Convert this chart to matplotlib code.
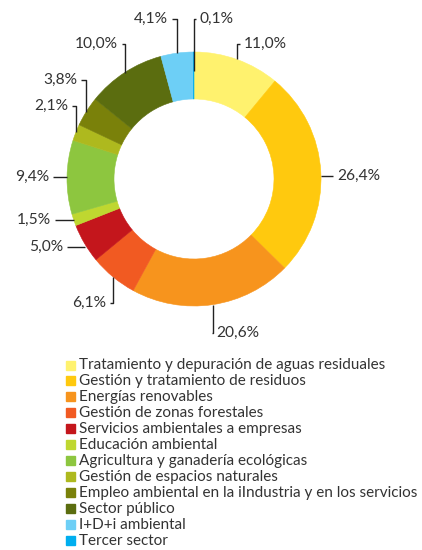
import matplotlib
matplotlib.use("Agg")
import matplotlib.pyplot as plt
from matplotlib.patches import Rectangle
import numpy as np

categories = [
    "Tratamiento y depuración de aguas residuales",
    "Gestión y tratamiento de residuos",
    "Energías renovables",
    "Gestión de zonas forestales",
    "Servicios ambientales a empresas",
    "Educación ambiental",
    "Agricultura y ganadería ecológicas",
    "Gestión de espacios naturales",
    "Empleo ambiental en la iIndustria y en los servicios",
    "Sector público",
    "I+D+i ambiental",
    "Tercer sector",
]
values = [11.0, 26.4, 20.6, 6.1, 5.0, 1.5, 9.4, 2.1, 3.8, 10.0, 4.1, 0.1]
colors = ["#FFF26E", "#FFC90E", "#F7941D", "#F15A22", "#C4161C", "#BFD730",
          "#8DC63F", "#AEB91E", "#7A810A", "#5B6D0F", "#6DCFF6", "#00AEEF"]

FONT = ["Lato", "DejaVu Sans"]
TXT = "#333333"
W, H = 422, 550
CX, CY, R = 194, 179, 127

fig = plt.figure(figsize=(W / 100, H / 100), dpi=100)
ax = fig.add_axes([0, 0, 1, 1])
wedges, _ = ax.pie(values, colors=colors, startangle=90, counterclock=False,
                   radius=1, wedgeprops=dict(width=0.37, linewidth=0.4))
for w, c in zip(wedges, colors):
    w.set_edgecolor(c)
ax.set_aspect("auto")
ax.set_xlim(-CX / R, (W - CX) / R)
ax.set_ylim((CY - H) / R, CY / R)
ax.axis("off")


def px(x, y):
    return (x - CX) / R, (CY - y) / R


# label layout: (text x px, text y px, side, kind, anchor radius)
layout = [
    (244, 44, "l", "v", 1.0),
    (337, 176, "l", "h", 1.0),
    (216, 333, "l", "v", 1.0),
    (106, 303, "r", "v", 1.0),
    (63, 247, "r", "h", 1.0),
    (51, 220, "r", "h", 1.0),
    (49, 177, "r", "h", 1.0),
    (68, 106, "r", "v", 1.0),
    (77, 80, "r", "v", 1.0),
    (118, 44, "r", "v", 1.0),
    (168, 19, "r", "v", 1.0),
    (200, 19, "l", "v", 0.85),
]

total = sum(values)
cum = np.cumsum([0] + values[:-1])
for i, v in enumerate(values):
    mid = (cum[i] + v / 2) / total
    ang = np.deg2rad(90 - 360 * mid)
    tx, ty, side, kind, ar = layout[i]
    ax_x, ax_y = ar * np.cos(ang), ar * np.sin(ang)
    label = f"{v:.1f}".replace(".", ",") + "%"
    gap = 4 / R
    txd, tyd = px(tx, ty)
    end = txd - gap if side == "l" else txd + gap
    if kind == "h":
        ax.plot([ax_x, end], [tyd, tyd], color="#222222", lw=1.0,
                solid_capstyle="butt")
    else:
        ax.plot([ax_x, ax_x, end], [ax_y, tyd, tyd], color="#222222", lw=1.0,
                solid_capstyle="butt")
    ax.text(txd, tyd, label, ha="left" if side == "l" else "right",
            va="center", fontsize=11.2, color=TXT, family=FONT)

# legend
lx, ly0, dy = 66, 365, 15.97
for i, (c, name) in enumerate(zip(colors, categories)):
    y = ly0 + i * dy
    fig.patches.append(Rectangle((lx / W, 1 - (y + 4.5) / H), 9 / W, 9 / H,
                                 transform=fig.transFigure, color=c,
                                 figure=fig))
    fig.text(79 / W, 1 - y / H, name, ha="left", va="center",
             fontsize=11.0, color=TXT, family=FONT)

fig.savefig("out.png", dpi=100, facecolor="white")
